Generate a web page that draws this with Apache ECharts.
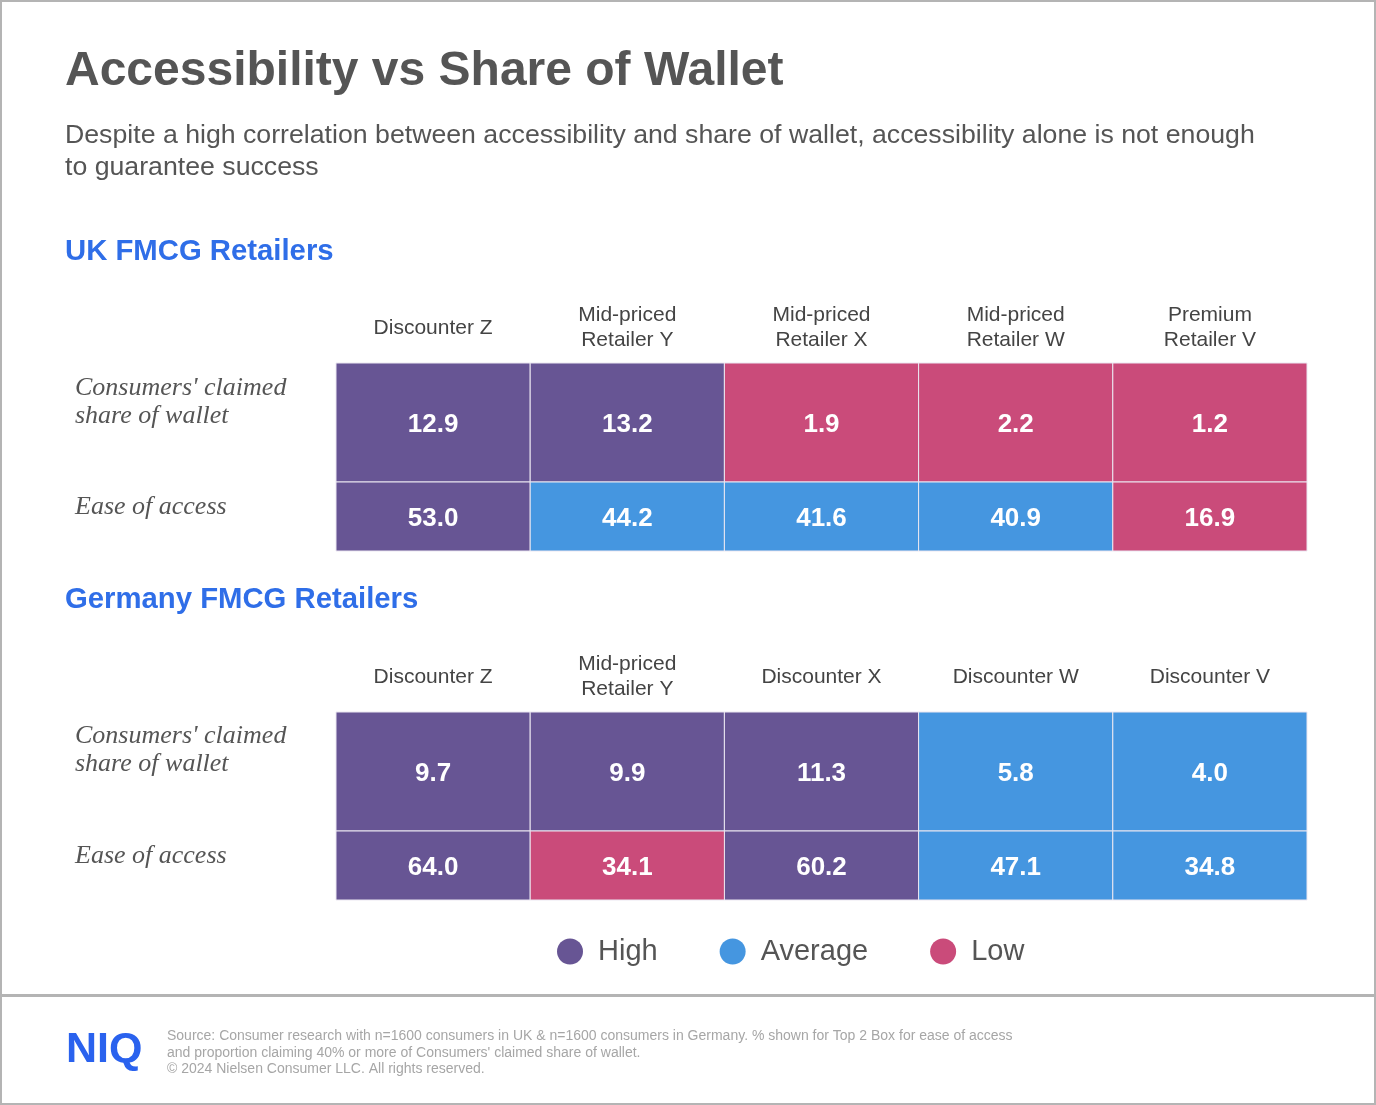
<!DOCTYPE html>
<html>
<head>
<meta charset="utf-8">
<script src="https://cdn.jsdelivr.net/npm/echarts@6/dist/echarts.min.js"></script>
<style>
html,body{margin:0;padding:0;background:#fff;}
#chart{width:1376px;height:1105px;}
</style>
</head>
<body>
<div id="chart"></div>
<script>
// ---- Data ----
const titleText = 'Accessibility vs Share of Wallet';
const subtitleText = 'Despite a high correlation between accessibility and share of wallet, accessibility alone is not enough\nto guarantee success';
const ukHeader = 'UK FMCG Retailers';
const deHeader = 'Germany FMCG Retailers';
const rowLabels = ["Consumers' claimed\nshare of wallet", 'Ease of access'];
const levels = ['High', 'Average', 'Low'];

const retailersUK = ['Discounter Z', 'Mid-priced\nRetailer Y', 'Mid-priced\nRetailer X', 'Mid-priced\nRetailer W', 'Premium\nRetailer V'];
const ukShare = [12.9, 13.2, 1.9, 2.2, 1.2];
const ukShareLevel = ['High', 'High', 'Low', 'Low', 'Low'];
const ukEase = [53.0, 44.2, 41.6, 40.9, 16.9];
const ukEaseLevel = ['High', 'Average', 'Average', 'Average', 'Low'];

const retailersDE = ['Discounter Z', 'Mid-priced\nRetailer Y', 'Discounter X', 'Discounter W', 'Discounter V'];
const deShare = [9.7, 9.9, 11.3, 5.8, 4.0];
const deShareLevel = ['High', 'High', 'High', 'Average', 'Average'];
const deEase = [64.0, 34.1, 60.2, 47.1, 34.8];
const deEaseLevel = ['High', 'Low', 'High', 'Average', 'Average'];

const sourceText = "Source: Consumer research with n=1600 consumers in UK & n=1600 consumers in Germany. % shown for Top 2 Box for ease of access\nand proportion claiming 40% or more of Consumers' claimed share of wallet.\n\u00a9 2024 Nielsen Consumer LLC. All rights reserved.";

// ---- Style ----
const levelColor = { High: '#675594', Average: '#4596E0', Low: '#CA4B7A' };
const sansFont = '"Liberation Sans", Arial, sans-serif';
const serifFont = '"Liberation Serif", "DejaVu Serif", serif';

const rows = [
  { cats: retailersUK, values: ukShare, lv: ukShareLevel, label: rowLabels[0], top: 363, height: 119, header: true, gap: 41 },
  { cats: retailersUK, values: ukEase, lv: ukEaseLevel, label: rowLabels[1], top: 482, height: 69, header: false, gap: 19 },
  { cats: retailersDE, values: deShare, lv: deShareLevel, label: rowLabels[0], top: 712, height: 119, header: true, gap: 43 },
  { cats: retailersDE, values: deEase, lv: deEaseLevel, label: rowLabels[1], top: 831, height: 69, header: false, gap: 19 }
];

function renderCell(params, api) {
  const c = api.coord([api.value(0), api.value(1)]);
  const s = api.size([1, 1]);
  return {
    type: 'rect',
    shape: { x: c[0] - s[0] / 2, y: c[1] - s[1] / 2, width: s[0], height: s[1] },
    style: { fill: api.visual('color'), stroke: '#ebe7f1', lineWidth: 1 },
    textContent: {
      style: { text: api.value(2).toFixed(1), fill: '#ffffff', font: 'bold 26px ' + sansFont }
    },
    textConfig: { position: 'inside', offset: [0, 2] }
  };
}

const grids = [], xAxes = [], yAxes = [], series = [];
rows.forEach((r, gi) => {
  grids.push({ left: 336, width: 971, top: r.top, height: r.height, containLabel: false });
  xAxes.push({
    type: 'category', gridIndex: gi, data: r.cats, position: 'top',
    axisLine: { show: false }, axisTick: { show: false }, splitLine: { show: false },
    axisLabel: {
      show: r.header, interval: 0, fontSize: 21, lineHeight: 25, color: '#444',
      fontFamily: sansFont, margin: 35, verticalAlign: 'middle', align: 'center'
    }
  });
  const gapKey = 'g' + gi;
  const rich = {
    t: { fontSize: 26, lineHeight: 28, color: '#555', fontStyle: 'italic', fontFamily: serifFont, align: 'left' }
  };
  rich[gapKey] = { fontSize: 2, lineHeight: r.gap, height: r.gap };
  yAxes.push({
    type: 'category', gridIndex: gi, data: [r.label],
    axisLine: { show: false }, axisTick: { show: false }, splitLine: { show: false },
    axisLabel: {
      align: 'left', margin: 261, verticalAlign: 'middle',
      formatter: v => v.split('\n').map(l => '{t|' + l + '}').join('\n') + '\n{' + gapKey + '| }',
      rich: rich
    }
  });
  levels.forEach(L => {
    const data = [];
    r.values.forEach((v, i) => { if (r.lv[i] === L) data.push([i, 0, v]); });
    series.push({
      type: 'custom', name: L, xAxisIndex: gi, yAxisIndex: gi,
      itemStyle: { color: levelColor[L] },
      encode: { x: 0, y: 1 },
      renderItem: renderCell,
      data: data
    });
  });
});

const chart = echarts.init(document.getElementById('chart'), null, { renderer: 'canvas' });
chart.setOption({
  backgroundColor: '#ffffff',
  animation: false,
  title: [
    { text: titleText, left: 65, top: 48, padding: 0, textStyle: { fontSize: 48, lineHeight: 48, fontWeight: 'bold', color: '#555', fontFamily: sansFont } },
    { text: subtitleText, left: 65, top: 120, padding: 0, textStyle: { fontSize: 26.7, lineHeight: 32, fontWeight: 'normal', color: '#555', fontFamily: sansFont } },
    { text: ukHeader, left: 65, top: 237, padding: 0, textStyle: { fontSize: 29.3, lineHeight: 29, fontWeight: 'bold', color: '#2F6EE8', fontFamily: sansFont } },
    { text: deHeader, left: 65, top: 585, padding: 0, textStyle: { fontSize: 29.3, lineHeight: 29, fontWeight: 'bold', color: '#2F6EE8', fontFamily: sansFont } },
    { text: 'NIQ', left: 66, top: 1029, padding: 0, textStyle: { fontSize: 43, lineHeight: 43, fontWeight: 'bold', color: '#2A62EE', fontFamily: sansFont } },
    { text: sourceText, left: 167, top: 1028, padding: 0, textStyle: { fontSize: 14, lineHeight: 16.5, fontWeight: 'normal', color: '#a6a6a6', fontFamily: sansFont } }
  ],
  legend: {
    data: levels, left: 557, top: 937, padding: 0, icon: 'circle', itemWidth: 26, itemHeight: 26, itemGap: 62,
    textStyle: { fontSize: 29, color: '#555', fontFamily: sansFont, padding: [0, 0, 0, 10] },
    selectedMode: false
  },
  grid: grids,
  xAxis: xAxes,
  yAxis: yAxes,
  series: series,
  graphic: [
    { type: 'rect', silent: true, shape: { x: 1, y: 1, width: 1374, height: 1103 }, style: { fill: 'none', stroke: '#b4b4b4', lineWidth: 2 } },
    { type: 'line', silent: true, shape: { x1: 0, y1: 995.5, x2: 1376, y2: 995.5 }, style: { stroke: '#b4b4b4', lineWidth: 3 } }
  ]
});
</script>
</body>
</html>
